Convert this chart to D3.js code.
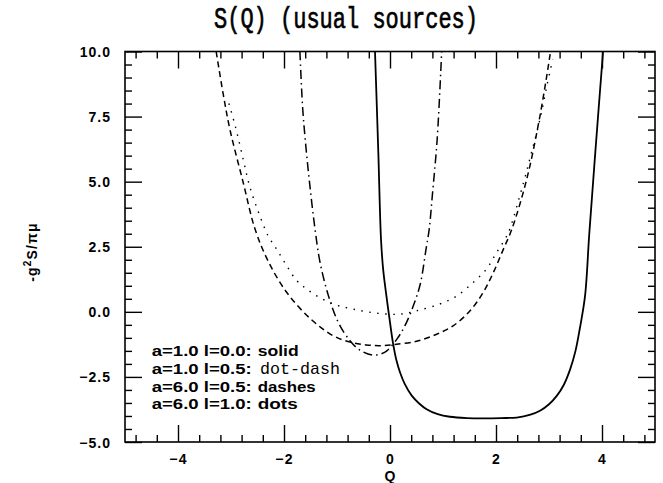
<!DOCTYPE html>
<html>
<head>
<meta charset="utf-8">
<script src="https://cdn.jsdelivr.net/npm/d3@7"></script>
<style>
  html, body { margin: 0; padding: 0; background: #fff; }
  svg { display: block; }
</style>
</head>
<body>
<div id="chart"></div>
<script>
// ---- Data ----
const titleText = "S(Q) (usual sources)";
const xLabel = "Q";
const xDomain = [-5, 5];
const yDomain = [-5, 10];
const xMajorTicks = [-4, -2, 0, 2, 4];
const xTickLabels = ["\u22124", "\u22122", "0", "2", "4"];
const yMajorTicks = [-5, -2.5, 0, 2.5, 5, 7.5, 10];
const yTickLabels = ["\u22125.0", "\u22122.5", "0.0", "2.5", "5.0", "7.5", "10.0"];
const xMinorStep = 0.4;
const yMinorStep = 0.5;

// a=1.0 l=0.0 : solid
const solidQ = [-0.283, -0.22, -0.17, -0.13, -0.08, -0.03, 0.02, 0.06, 0.12, 0.19, 0.28, 0.41, 0.55, 0.69, 0.90, 1.13, 1.45, 1.76, 2.10, 2.39, 2.65, 2.83, 3.00, 3.15, 3.28, 3.40, 3.50, 3.58, 3.68, 3.76, 3.88, 4.02];
const solidS = [10.0, 6.1, 2.8, 1.65, 0.8, 0.04, -0.7, -1.24, -1.85, -2.33, -2.78, -3.22, -3.52, -3.74, -3.93, -4.03, -4.08, -4.09, -4.08, -4.06, -3.95, -3.80, -3.55, -3.22, -2.80, -2.20, -1.50, -0.66, 0.61, 3.0, 6.3, 10.0];

// a=1.0 l=0.5 : dot-dash
const dotDashQ = [-1.70, -1.65, -1.60, -1.52, -1.415, -1.32, -1.16, -0.975, -0.755, -0.57, -0.33, -0.15, -0.06, 0.13, 0.28, 0.44, 0.57, 0.68, 0.74, 0.80, 0.89, 0.975];
const dotDashS = [10.0, 7.9, 6.63, 5.0, 3.18, 1.90, 0.61, -0.41, -1.11, -1.47, -1.66, -1.60, -1.50, -1.05, -0.54, 0.23, 1.06, 2.41, 3.18, 4.5, 6.63, 10.0];

// a=6.0 l=0.5 : dashes
const dashQ = [-3.28, -3.15, -3.02, -2.77, -2.55, -2.30, -1.95, -1.51, -1.07, -0.72, -0.45, -0.19, 0.06, 0.50, 0.88, 1.19, 1.51, 1.76, 1.95, 2.14, 2.30, 2.58, 2.83, 3.03];
const dashS = [10.0, 8.4, 7.0, 4.97, 3.2, 1.95, 0.75, -0.25, -0.92, -1.18, -1.27, -1.30, -1.26, -1.13, -0.86, -0.54, 0.04, 0.75, 1.51, 2.41, 3.18, 5.10, 7.53, 10.0];

// a=6.0 l=1.0 : dots
const dotsQ = [-3.04, -2.92, -2.77, -2.65, -2.48, -2.30, -2.14, -1.95, -1.76, -1.57, -1.38, -1.07, -0.69, -0.25, 0.19, 0.50, 0.94, 1.26, 1.57, 1.82, 2.01, 2.17, 2.26, 2.52, 2.67, 2.83, 2.96, 3.07];
const dotsS = [8.0, 7.14, 5.86, 4.84, 3.82, 2.92, 2.41, 1.77, 1.2, 0.87, 0.61, 0.30, 0.10, -0.05, -0.09, 0.04, 0.30, 0.61, 1.13, 1.64, 2.28, 2.79, 3.18, 4.97, 6.12, 7.40, 8.68, 9.70];

const legendParams = ["a=1.0 l=0.0:", "a=1.0 l=0.5:", "a=6.0 l=0.5:", "a=6.0 l=1.0:"];
const legendStyles = ["solid", "dot-dash", "dashes", "dots"];

// ---- Drawing ----
const W = 663, H = 483;
const svg = d3.select("#chart").append("svg").attr("width", W).attr("height", H);

const x = d3.scaleLinear().domain(xDomain).range([125, 655]);
const y = d3.scaleLinear().domain(yDomain).range([442, 51.5]);

const boldFont = "'Liberation Sans', Arial, sans-serif";
const monoFont = "'Liberation Mono', 'Courier New', monospace";

// clip
svg.append("defs").append("clipPath").attr("id", "plotclip")
  .append("rect").attr("x", x(-5)).attr("y", y(10)).attr("width", x(5) - x(-5)).attr("height", y(-5) - y(10));

// minor tick values
const xMinor = d3.range(-4.8, 4.81, xMinorStep).map(v => +v.toFixed(2)).filter(v => !xMajorTicks.some(m => Math.abs(m - v) < 1e-6));
const yMinor = d3.range(-5, 10.01, yMinorStep).map(v => +v.toFixed(2)).filter(v => !yMajorTicks.some(m => Math.abs(m - v) < 1e-6));

function styleAxis(g) {
  g.select(".domain").remove();
  g.selectAll(".tick line").attr("stroke", "#000").attr("stroke-width", 1.4);
}

// bottom
svg.append("g").attr("transform", `translate(0,${y(-5)})`)
  .call(d3.axisBottom(x).tickValues(xMajorTicks).tickSizeInner(-17).tickSizeOuter(0)
    .tickFormat((d, i) => xTickLabels[i]))
  .call(styleAxis)
  .call(g => g.selectAll("text").attr("dy", null).attr("y", 21.5)
    .attr("font-family", boldFont).attr("font-weight", "bold").attr("font-size", 14)
    .attr("letter-spacing", 1.2).attr("fill", "#000"));
svg.append("g").attr("transform", `translate(0,${y(-5)})`)
  .call(d3.axisBottom(x).tickValues(xMinor).tickSizeInner(-7).tickSizeOuter(0).tickFormat(""))
  .call(styleAxis);
// top
svg.append("g").attr("transform", `translate(0,${y(10)})`)
  .call(d3.axisTop(x).tickValues(xMajorTicks).tickSizeInner(-17).tickSizeOuter(0).tickFormat(""))
  .call(styleAxis);
svg.append("g").attr("transform", `translate(0,${y(10)})`)
  .call(d3.axisTop(x).tickValues(xMinor).tickSizeInner(-7).tickSizeOuter(0).tickFormat(""))
  .call(styleAxis);
// left
svg.append("g").attr("transform", `translate(${x(-5)},0)`)
  .call(d3.axisLeft(y).tickValues(yMajorTicks).tickSizeInner(-17).tickSizeOuter(0).tickPadding(14)
    .tickFormat((d, i) => yTickLabels[i]))
  .call(styleAxis)
  .call(g => g.selectAll("text").attr("x", -14).attr("dy", "0.36em")
    .attr("font-family", boldFont).attr("font-weight", "bold").attr("font-size", 14)
    .attr("letter-spacing", 1).attr("fill", "#000"));
svg.append("g").attr("transform", `translate(${x(-5)},0)`)
  .call(d3.axisLeft(y).tickValues(yMinor).tickSizeInner(-7).tickSizeOuter(0).tickFormat(""))
  .call(styleAxis);
// right
svg.append("g").attr("transform", `translate(${x(5)},0)`)
  .call(d3.axisRight(y).tickValues(yMajorTicks).tickSizeInner(-17).tickSizeOuter(0).tickFormat(""))
  .call(styleAxis);
svg.append("g").attr("transform", `translate(${x(5)},0)`)
  .call(d3.axisRight(y).tickValues(yMinor).tickSizeInner(-7).tickSizeOuter(0).tickFormat(""))
  .call(styleAxis);

// frame
svg.append("rect")
  .attr("x", x(-5)).attr("y", y(10))
  .attr("width", x(5) - x(-5)).attr("height", y(-5) - y(10))
  .attr("fill", "none").attr("stroke", "#000").attr("stroke-width", 1.6);

// curves
const line = d3.line().x(d => x(d[0])).y(d => y(d[1])).curve(d3.curveCatmullRom.alpha(0.5));
const series = [
  { q: solidQ, s: solidS, dash: null, w: 1.8 },
  { q: dotDashQ, s: dotDashS, dash: "9,4,1.5,4", w: 1.5 },
  { q: dashQ, s: dashS, dash: "6,4", w: 1.5 },
  { q: dotsQ, s: dotsS, dash: "1.5,6.5", w: 1.4 }
];
const plot = svg.append("g").attr("clip-path", "url(#plotclip)");
series.forEach(sr => {
  plot.append("path")
    .datum(sr.q.map((q, i) => [q, sr.s[i]]))
    .attr("d", line)
    .attr("fill", "none")
    .attr("stroke", "#000")
    .attr("stroke-width", sr.w)
    .attr("stroke-dasharray", sr.dash);
});

// title
svg.append("text")
  .attr("transform", "translate(214,28) scale(1,1.35)")
  .attr("font-family", monoFont).attr("font-size", 22)
  .attr("textLength", 264).attr("lengthAdjust", "spacingAndGlyphs")
  .attr("fill", "#000").attr("stroke", "#000").attr("stroke-width", 0.5)
  .text(titleText);

// x label
svg.append("text")
  .attr("x", x(0)).attr("y", 481).attr("text-anchor", "middle")
  .attr("font-family", boldFont).attr("font-weight", "bold").attr("font-size", 14)
  .attr("fill", "#000").text(xLabel);

// y label
const yl = svg.append("text")
  .attr("transform", "translate(37,252) rotate(-90)")
  .attr("text-anchor", "middle")
  .attr("font-family", boldFont).attr("font-weight", "bold").attr("font-size", 14)
  .attr("letter-spacing", 1.2).attr("fill", "#000");
yl.append("tspan").text("-g");
yl.append("tspan").attr("font-size", 10).attr("dy", -6).text("2");
yl.append("tspan").attr("dy", 6).text("S/\u03c0\u03bc");

// legend
const legendX = 151.7;
const legendBaselines = [356, 374, 391.5, 409];
const paramLen = 100;
const styleStart = [205, 260, 205, 205];
const styleLen = [41, 80, 58, 40];
legendParams.forEach((p, i) => {
  svg.append("text")
    .attr("x", legendX).attr("y", legendBaselines[i])
    .attr("font-family", boldFont).attr("font-weight", "bold").attr("font-size", 15)
    .attr("textLength", paramLen).attr("lengthAdjust", "spacingAndGlyphs")
    .attr("fill", "#000").text(p);
});
legendStyles.forEach((s, i) => {
  const isMono = s === "dot-dash";
  const t = svg.append("text")
    .attr("y", legendBaselines[i])
    .attr("fill", "#000").text(s);
  if (isMono) {
    t.attr("x", styleStart[i]).attr("font-family", monoFont).attr("font-size", 17)
      .attr("textLength", styleLen[i]).attr("lengthAdjust", "spacingAndGlyphs");
  } else {
    t.attr("x", legendX + paramLen + 6).attr("font-family", boldFont).attr("font-weight", "bold").attr("font-size", 15)
      .attr("textLength", styleLen[i]).attr("lengthAdjust", "spacingAndGlyphs");
  }
});
</script>
</body>
</html>
